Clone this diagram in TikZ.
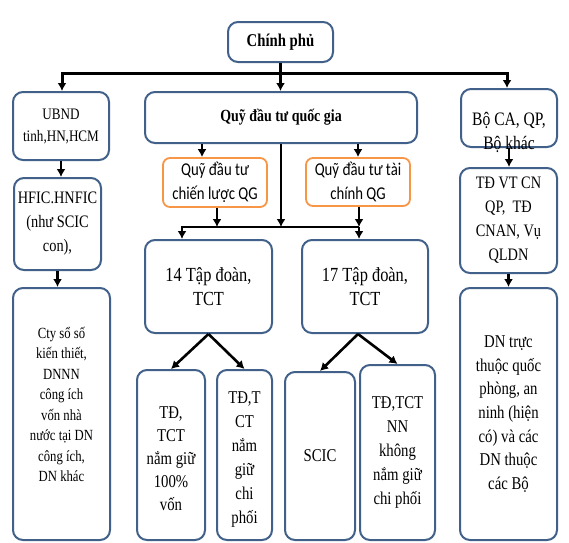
\documentclass[tikz,border=0pt]{standalone}
\usepackage{fontspec}
\setmainfont{Liberation Serif}[FakeStretch=0.82]
\newfontfamily\calib{Carlito}[FakeStretch=0.82]
\usetikzlibrary{arrows.meta}
\definecolor{boxblue}{RGB}{65,97,138}
\definecolor{boxorange}{RGB}{247,150,70}
\tikzset{
  bluebox/.style={draw=boxblue, line width=2pt, rounded corners=10pt, fill=white, align=center, inner sep=0pt},
  orangebox/.style={draw=boxorange, line width=1.8pt, rounded corners=7pt, fill=white, align=center, inner sep=0pt, font=\calib\fontsize{18}{24}\selectfont},
  txt/.style={align=center, inner sep=0pt},
  sz/.style 2 args={font=\fontsize{#1}{#2}\selectfont},
  bsz/.style 2 args={font=\bfseries\fontsize{#1}{#2}\selectfont},
  wh/.style 2 args={minimum width=#1, minimum height=#2},
  conn/.style={line width=2.6pt, black},
  arr/.style={conn, -{Latex[length=8pt,width=9pt]}},
  bus/.style={line width=3pt, black, line join=miter},
}
\begin{document}
\begin{tikzpicture}[x=1pt, y=-1pt]
\fill[white] (0,0) rectangle (569,542);
\useasboundingbox (0,0) rectangle (569,542);

% boxes
\node[bluebox, wh={105pt}{40pt}, bsz={18}{22}] (cp) at (280.5,42) {Chính phủ};
\node[bluebox, wh={96pt}{68pt}, sz={16}{22}] (ubnd) at (61,126) {UBND\\tinh,HN,HCM};
\node[bluebox, wh={272pt}{51pt}, bsz={17}{22}] (qg) at (281,117.5) {Quỹ đầu tư quốc gia};
\node[bluebox, wh={96pt}{58pt}] (bo) at (509,118) {};
\node[txt, sz={19}{24}] (botext) at (509,132) {Bộ CA, QP,\\Bộ khác};
\node[bluebox, wh={87pt}{92pt}, sz={17.5}{24}] (hfic) at (57.5,224) {HFIC.HNFIC\\(như SCIC\\con),};
\node[bluebox, wh={97pt}{252pt}] (cty) at (61.5,414) {};
\node[txt, sz={15.5}{20.5}] (ctytext) at (61.5,404.5) {Cty sổ số\\kiến thiết,\\DNNN\\công ích\\vốn nhà\\nước tại DN\\công ích,\\DN khác};
\node[orangebox, wh={104pt}{49pt}] (o1) at (215,182.5) {Quỹ đầu tư\\chiến lược QG};
\node[orangebox, wh={104pt}{48pt}] (o2) at (358,182) {Quỹ đầu tư tài\\chính QG};
\node[bluebox, wh={127pt}{93pt}, sz={20}{24}] (t14) at (208.5,286.5) {14 Tập đoàn,\\TCT};
\node[bluebox, wh={126pt}{93pt}, sz={20}{24}] (t17) at (365,286.5) {17 Tập đoàn,\\TCT};
\node[bluebox, wh={68pt}{170pt}] (td100) at (171,455) {};
\node[txt, sz={18}{23}] (td100text) at (171,459) {TĐ,\\TCT\\nắm giữ\\100\%\\vốn};
\node[bluebox, wh={55pt}{170pt}] (tdcp) at (244.5,455) {};
\node[txt, sz={18}{24}] (tdcptext) at (244.5,460) {TĐ,T\\CT\\nắm\\giữ\\chi\\phối};
\node[bluebox, wh={70pt}{168pt}, sz={18}{24}] (scic) at (320,456) {SCIC};
\node[bluebox, wh={75pt}{175pt}, sz={18}{24}] (tdnn) at (397.5,452.5) {TĐ,TCT\\NN\\không\\nắm giữ\\chi phối};
\node[bluebox, wh={97pt}{105pt}, sz={17.5}{24}] (tdvt) at (508.5,220.5) {TĐ VT CN\\QP,\ \ TĐ\\CNAN, Vụ\\QLDN};
\node[bluebox, wh={97pt}{252pt}, sz={18}{23.7}] (dn) at (508.5,414) {DN trực\\thuộc quốc\\phòng, an\\ninh (hiện\\có) và các\\DN thuộc\\các Bộ};

% top bus
\coordinate (hl) at (62,73);
\coordinate (hr) at (507,73);
\draw[bus, {Latex[length=8pt,width=9pt]}-{Latex[length=8pt,width=9pt]}] (hl |- ubnd.north) -- (hl) -- (hr) -- (hr |- bo.north);
\draw[arr] (cp.south) -- (cp.south |- qg.north);

% middle
\coordinate (x1) at (202,0);
\coordinate (x2) at (217,0);
\coordinate (b1) at (182,227);
\coordinate (b2) at (359,227);
\draw[arr] (x1 |- qg.south) -- (x1 |- o1.north);
\draw[arr] (o2.north |- qg.south) -- (o2.north);
\draw[arr] (qg.south) -- (qg.south |- b1);
\draw[arr] (x2 |- o1.south) -- (x2 |- b1);
\draw[arr] (b2 |- o2.south) -- (b2);
\draw[arr, line join=miter] (b2) -- (b1) -- (b1 |- t14.north);
\draw[arr] (b2) -- (b2 |- t17.north);

% lower
\draw[arr] (t14.south) -- (td100.north);
\draw[arr] (t14.south) -- (tdcp.north);
\draw[arr] ([xshift=-7pt]t17.south) -- (scic.north);
\draw[arr] ([xshift=-7pt]t17.south) -- (tdnn.north);

% side columns
\draw[arr] (ubnd.south) -- (ubnd.south |- hfic.north);
\draw[arr] (hfic.south) -- (hfic.south |- cty.north);
\draw[arr] (bo.south) -- (bo.south |- tdvt.north);
\draw[arr] (tdvt.south) -- (tdvt.south |- dn.north);
\end{tikzpicture}
\end{document}
